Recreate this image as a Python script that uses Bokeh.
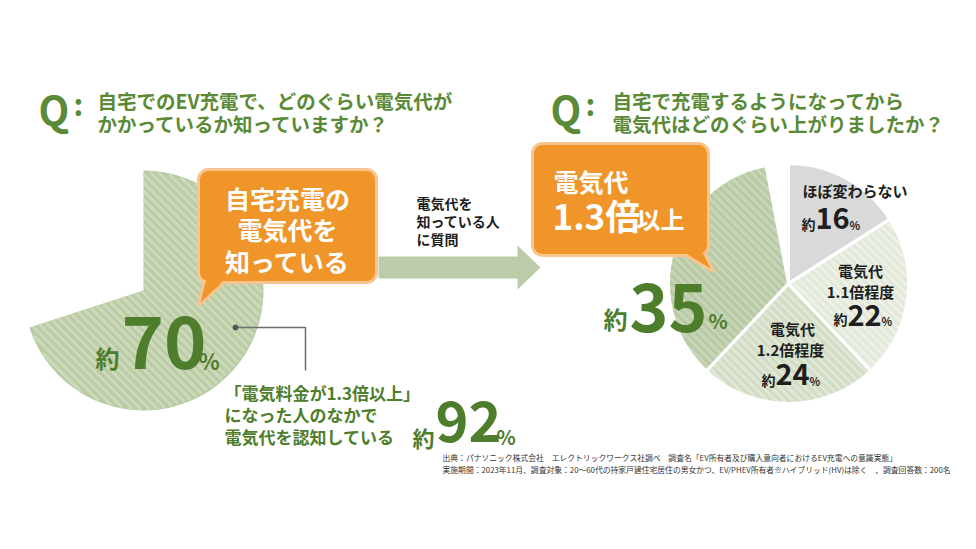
import math
import numpy as np
from bokeh.plotting import figure
from bokeh.models import Range1d
from bokeh.core.properties import value
from bokeh.embed import file_html
from bokeh.resources import INLINE

# --- data ---
left_share = [70]                     # % who know their home-charging cost
left_label = "約70%"
right_labels = ["ほぼ変わらない", "電気代1.1倍程度", "電気代1.2倍程度", "電気代1.3倍以上"]
right_values = [16, 22, 24, 35]       # % (remaining 3% not shown)
aware_share = 92                      # % of "1.3x or more" who know the cost

title_left = ["自宅でのEV充電で、どのぐらい電気代が", "かかっているか知っていますか？"]
title_right = ["自宅で充電するようになってから", "電気代はどのぐらい上がりましたか？"]
source_note = [
    "出典：パナソニック株式会社　エレクトリックワークス社調べ　調査名「EV所有者及び購入意向者におけるEV充電への意識実態」",
    "実施期間：2023年11月、調査対象：20～60代の持家戸建住宅居住の男女かつ、EV/PHEV所有者※ハイブリッド(HV)は除く　、調査回答数：200名",
]

FONT = value("Noto Sans CJK JP")
GREEN = "#5a8a36"
DGREEN = "#4e7d2c"
ORANGE = "#f0952a"
ORANGE_EDGE = "#f8c58e"
INK = "#1e1e1e"

W, H = 960, 533


def Y(py):
    # page pixel row -> data y
    return 549 - py


p = figure(width=W, height=H, output_backend="svg", toolbar_location=None,
           x_range=Range1d(0, W), y_range=Range1d(549 - H, 549),
           min_border=0, outline_line_color=None)
p.axis.visible = False
p.grid.visible = False


def txt(x, y, s, size, color=INK, align="left", style="bold"):
    p.text(x=[x], y=[Y(y)], text=[s], text_font=FONT, text_font_size=f"{size}px",
           text_color=color, text_align=align, text_baseline="middle",
           text_font_style=style)


def stripes(cx, cy, r, a0, a1, color, gap=6.0, width=3.0):
    # diagonal "\" stripes clipped to a wedge (data coords, y up)
    span = (a1 - a0) % (2 * math.pi) or 2 * math.pi
    xs, ys = [], []
    step = gap * math.sqrt(2)
    for c in np.arange(cx + cy - 2 * r, cx + cy + 2 * r, step):
        x = np.arange(cx - r, cx + r, 0.5)
        y = c - x
        dx, dy = x - cx, y - cy
        inside = (dx * dx + dy * dy <= (r - 1) ** 2)
        ang = (np.arctan2(dy, dx) - a0) % (2 * math.pi)
        inside &= ang <= span
        if not inside.any():
            continue
        idx = np.flatnonzero(np.diff(np.r_[0, inside.astype(int), 0]))
        for s, e in zip(idx[::2], idx[1::2]):
            if e - s > 1:
                xs.append([x[s], x[e - 1]])
                ys.append([y[s], y[e - 1]])
    p.multi_line(xs=xs, ys=ys, line_color=color, line_width=width)


# --- left pie (70% slice only) ---
cx, cy, r = 143, Y(290), 120
frac = left_share[0] / 100
a0, a1 = math.pi / 2 - 2 * math.pi * frac, math.pi / 2
p.wedge(x=[cx], y=[cy], radius=r, start_angle=[a0], end_angle=[a1],
        fill_color="#bbcba4", line_color=None)
stripes(cx, cy, r, a0, a1, "#ccd9bb")

# --- right pie ---
rx, ry = 788, Y(283)
fills = ["#d9d9d9", "#e2e9d9", "#d2dcc5", "#b8c9a5"]
hatch = [None, "#edf1e7", "#dfe7d5", "#c8d6b8"]
cum = 0
starts, ends = [], []
for v in right_values:
    ends.append(math.pi / 2 - 2 * math.pi * cum / 100)
    cum += v
    starts.append(math.pi / 2 - 2 * math.pi * cum / 100)
p.wedge(x=[rx] * 4, y=[ry] * 4, radius=120, start_angle=starts, end_angle=ends,
        fill_color=fills, line_color=None)
for s0, e0, hc in zip(starts, ends, hatch):
    if hc:
        stripes(rx, ry, 120, s0, e0, hc)
p.wedge(x=[rx] * 4, y=[ry] * 4, radius=120, start_angle=starts, end_angle=ends,
        fill_color=None, line_color="white", line_width=3)

# --- titles ---
for qx, tx, lines in [(38, 97, title_left), (550, 612, title_right)]:
    txt(qx, 108, "Q", 40, GREEN)
    txt(qx + 35, 102, ":", 30, GREEN)
    txt(tx, 100, lines[0], 19.5, GREEN)
    txt(tx, 123, lines[1], 19.5, GREEN)

# --- left callout ---
p.patch(x=[204, 226, 198], y=[Y(280), Y(280), Y(305)], fill_color=ORANGE,
        line_color=ORANGE_EDGE, line_width=3)
p.quad(left=[198], right=[376], top=[Y(169)], bottom=[Y(282)], fill_color=ORANGE,
       line_color=ORANGE_EDGE, line_width=3, border_radius=10)
p.patch(x=[206, 224, 200], y=[Y(279), Y(279), Y(302)], fill_color=ORANGE, line_color=None)
for yy, s in zip([197, 228, 260], ["自宅充電の", "電気代を", "知っている"]):
    txt(287, yy, s, 25, "white", align="center")

# --- arrow ---
p.patch(x=[378, 517, 517, 540, 517, 517, 378],
        y=[Y(256), Y(256), Y(245), Y(267), Y(289), Y(278), Y(278)],
        fill_color="#bccba8", line_color=None)
for yy, s in zip([202, 220, 238], ["電気代を", "知っている人", "に質問"]):
    txt(416, yy, s, 14, INK)

# --- right callout ---
p.patch(x=[682, 704, 713], y=[Y(253), Y(253), Y(271)], fill_color=ORANGE,
        line_color=ORANGE_EDGE, line_width=3)
p.quad(left=[532], right=[708], top=[Y(143)], bottom=[Y(255)], fill_color=ORANGE,
       line_color=ORANGE_EDGE, line_width=3, border_radius=10)
p.patch(x=[684, 702, 710], y=[Y(252), Y(252), Y(268)], fill_color=ORANGE, line_color=None)
txt(553, 180, "電気代", 25, "white")
txt(552, 214, "1.3倍", 35, "white")
txt(636, 218, "以上", 24, "white")

# --- big percentages ---
txt(95, 357, "約", 24, DGREEN)
txt(121, 342, left_label[1:3], 72, DGREEN)
txt(198, 359, "%", 22, DGREEN)

txt(603, 318, "約", 24, DGREEN)
txt(629, 307, str(right_values[3]), 66, DGREEN)
txt(708, 320, "%", 20, DGREEN)

# --- right pie labels ---
txt(802, 190, right_labels[0], 15, INK)
txt(801, 223, "約", 14, INK)
txt(815, 217, str(right_values[0]), 29, INK)
txt(849, 224, "%", 11, INK)

txt(860, 270, right_labels[1][:3], 15, INK, align="center")
txt(860, 291, right_labels[1][3:], 15, INK, align="center")
txt(833, 318, "約", 14, INK)
txt(847, 314, str(right_values[1]), 29, INK)
txt(881, 320, "%", 11, INK)

txt(792, 328, right_labels[2][:3], 15, INK, align="center")
txt(790, 349, right_labels[2][3:], 15, INK, align="center")
txt(761, 379, "約", 14, INK)
txt(775, 373, str(right_values[2]), 29, INK)
txt(809, 380, "%", 11, INK)

# --- connector ---
p.line(x=[235, 305, 305], y=[Y(327), Y(327), Y(370)], line_color="#6e6e6e", line_width=1.5)
p.scatter(x=[235], y=[Y(327)], size=5, color="#555555")

# --- bottom note ---
for yy, s in zip([392, 414, 436], ["「電気料金が1.3倍以上」", "になった人のなかで", "電気代を認知している"]):
    txt(224, yy, s, 17, DGREEN)
txt(412, 436, "約", 22, DGREEN)
txt(435, 421, str(aware_share), 56, DGREEN)
txt(496, 436, "%", 20, DGREEN)

# --- source ---
txt(442, 457, source_note[0], 7.8, "#333333", style="normal")
txt(442, 469, source_note[1], 7.8, "#333333", style="normal")

open("out.html", "w").write(file_html(p, INLINE))
